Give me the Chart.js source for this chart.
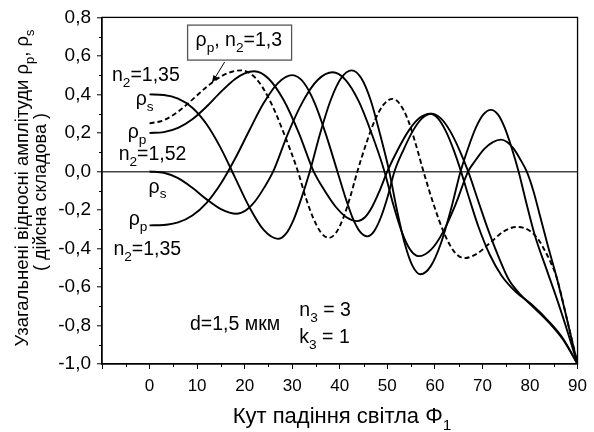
<!DOCTYPE html>
<html>
<head>
<meta charset="utf-8">
<script src="https://cdn.jsdelivr.net/npm/chart.js@4"></script>
<style>
html, body { margin: 0; padding: 0; background: #fff; }
</style>
</head>
<body>
<canvas id="chart" width="594" height="432"></canvas>
<script>
// rho_s, n2=1,35 (top group)
var sTopX = [0, 3, 6, 9, 12, 15, 18, 21, 24, 27, 28.7, 30.35, 32, 33.7, 35.9, 38.1, 40.3, 42.5, 44.5, 46.5, 48.4, 50.4, 52.05, 53.7, 55.35, 57, 59.1, 61.2, 63.3, 65.4, 67, 68.6, 70.2, 71.8, 73.25, 74.7, 76.15, 77.6, 79.3, 81, 83.5, 85.9, 88, 90];
var sTopY = [0.40, 0.397, 0.378, 0.331, 0.245, 0.12, -0.033, -0.186, -0.304, -0.35, -0.323, -0.247, -0.134, 0, 0.2, 0.371, 0.485, 0.525, 0.485, 0.37, 0.2, 0, -0.204, -0.378, -0.493, -0.534, -0.493, -0.378, -0.204, 0, 0.122, 0.226, 0.296, 0.32, 0.296, 0.226, 0.122, 0, -0.17, -0.33, -0.51, -0.68, -0.84, -1.0];
// rho_p, n2=1,35 (top group)
var pTopX = [0, 3, 6, 9, 12, 15, 18, 20, 22, 25.1, 28.25, 31.4, 34.5, 36.8, 39.1, 41.4, 43.7, 45.3, 46.85, 48.4, 50, 52.25, 54.5, 56.75, 59, 60.6, 62.25, 63.9, 65.5, 67.1, 69.2, 71.5, 74, 77, 80.3, 84, 87, 90];
var pTopY = [0.20, 0.2045, 0.226, 0.271, 0.337, 0.413, 0.48, 0.509, 0.52, 0.48, 0.368, 0.199, 0, -0.099, -0.182, -0.238, -0.258, -0.238, -0.182, -0.099, 0, 0.115, 0.212, 0.277, 0.30, 0.277, 0.212, 0.115, 0, -0.13, -0.29, -0.43, -0.54, -0.625, -0.69, -0.78, -0.87, -1.0];
// rho_s, lower group
var sLowX = [0, 3, 6, 9, 12, 15, 18.3, 20.2, 22.15, 24.1, 26, 29.1, 32.25, 35.4, 38.5, 41.2, 44, 46.7, 49.4, 51.2, 53, 54.8, 56.6, 59.2, 61.8, 64.4, 67, 68.7, 70.4, 72.2, 73.9, 75.25, 76.6, 77.95, 79.3, 80.7, 82.1, 83.8, 85.6, 87.8, 90];
var sLowY = [0, -0.007, -0.035, -0.085, -0.145, -0.196, -0.22, -0.203, -0.156, -0.084, 0, 0.197, 0.364, 0.476, 0.515, 0.476, 0.364, 0.197, 0, -0.168, -0.311, -0.406, -0.44, -0.406, -0.311, -0.168, 0, 0.063, 0.117, 0.152, 0.165, 0.152, 0.117, 0.063, 0, -0.1, -0.23, -0.39, -0.55, -0.77, -1.0];
// rho_p, lower group
var pLowX = [0, 3, 6, 9, 12, 15, 18, 21, 24, 27, 30, 32.4, 34.75, 37.1, 39.5, 41.1, 42.65, 44.2, 45.8, 47.2, 48.65, 50.1, 51.5, 53.45, 55.4, 57.35, 59.3, 61.2, 63.15, 65.1, 67, 69.2, 71.3, 73.5, 75.5, 78, 80.3, 84, 87, 90];
var pLowY = [-0.28, -0.278, -0.265, -0.229, -0.163, -0.063, 0.067, 0.214, 0.355, 0.459, 0.50, 0.462, 0.354, 0.191, 0, -0.129, -0.238, -0.311, -0.337, -0.311, -0.238, -0.129, 0, 0.115, 0.212, 0.277, 0.30, 0.277, 0.212, 0.115, 0, -0.16, -0.31, -0.45, -0.56, -0.64, -0.695, -0.785, -0.875, -1.0];
// rho_p, n2=1,3 (dashed)
var p13X = [0, 3, 6, 9, 12, 15, 17.5, 19.3, 22.3, 25.25, 28.2, 31.2, 32.8, 34.45, 36.1, 37.7, 39.2, 40.7, 42.2, 43.7, 45.55, 47.4, 49.25, 51.1, 52.7, 54.35, 55.95, 57.6, 59.75, 61.9, 64.05, 66.2, 68.95, 71.7, 74.45, 77.2, 78.8, 80.3, 81.8, 83.1, 84.4, 85.6, 87.8, 90];
var p13Y = [0.25, 0.266, 0.311, 0.373, 0.439, 0.493, 0.519, 0.525, 0.485, 0.371, 0.201, 0, -0.132, -0.244, -0.319, -0.345, -0.319, -0.244, -0.132, 0, 0.144, 0.267, 0.348, 0.377, 0.348, 0.267, 0.144, 0, -0.172, -0.318, -0.416, -0.45, -0.426, -0.369, -0.312, -0.288, -0.294, -0.315, -0.355, -0.41, -0.475, -0.55, -0.77, -1.0];

var xMin = -10, xMax = 90, xStep = 10;
var yMin = -1.0, yMax = 0.8, yStep = 0.2;

var FONT = "'Liberation Sans', Arial, sans-serif";

// labels in the plot: text, x (data), y (data) of the left baseline point
var notes = [
    { t: 'n_2=1,35', x: -7.9, y: 0.47 },
    { t: 'ρ_s', x: -2.9, y: 0.345 },
    { t: 'ρ_p', x: -4.6, y: 0.173 },
    { t: 'n_2=1,52', x: -6.5, y: 0.058 },
    { t: 'ρ_s', x: -0.2, y: -0.11 },
    { t: 'ρ_p', x: -4.4, y: -0.277 },
    { t: 'n_2=1,35', x: -7.6, y: -0.435 },
    { t: 'd=1,5 мкм', x: 8.5, y: -0.823 },
    { t: 'n_3 = 3', x: 31.5, y: -0.75 },
    { t: 'k_3 = 1', x: 31.5, y: -0.89 }
];

function pts(xs, ys) {
    var out = [];
    for (var i = 0; i < xs.length; i++) out.push({ x: xs[i], y: ys[i] });
    return out;
}

function splitRich(str) {
    var parts = [];
    for (var i = 0; i < str.length; i++) {
        if (str[i] === '_') {
            parts.push({ t: str[i + 1], sub: true });
            i++;
        } else if (parts.length && !parts[parts.length - 1].sub) {
            parts[parts.length - 1].t += str[i];
        } else {
            parts.push({ t: str[i], sub: false });
        }
    }
    return parts;
}

function richWidth(ctx, parts, size) {
    var w = 0;
    parts.forEach(function(p) {
        ctx.font = (p.sub ? size * 0.7 : size) + 'px ' + FONT;
        w += ctx.measureText(p.t).width;
    });
    return w;
}

function drawRich(ctx, str, x, y, size, center) {
    var parts = splitRich(str);
    var cx = x;
    if (center) cx = x - richWidth(ctx, parts, size) / 2;
    ctx.textBaseline = 'alphabetic';
    ctx.textAlign = 'left';
    parts.forEach(function(p) {
        var s = p.sub ? size * 0.7 : size;
        ctx.font = s + 'px ' + FONT;
        ctx.fillText(p.t, cx, p.sub ? y + size * 0.3 : y);
        cx += ctx.measureText(p.t).width;
    });
}

var decor = {
    id: 'decor',
    afterDraw: function(chart) {
        var ctx = chart.ctx;
        var a = chart.chartArea;
        var xs = chart.scales.x, ys = chart.scales.y;
        ctx.save();
        ctx.strokeStyle = '#000';
        ctx.fillStyle = '#000';

        // frame
        ctx.lineWidth = 1.3;
        ctx.strokeRect(a.left, a.top, a.right - a.left, a.bottom - a.top);

        // minor ticks
        ctx.lineWidth = 1;
        ctx.beginPath();
        for (var v = xMin + xStep / 2; v < xMax; v += xStep) {
            var px = Math.round(xs.getPixelForValue(v)) + 0.5;
            ctx.moveTo(px, a.bottom);
            ctx.lineTo(px, a.bottom + 3);
        }
        for (var k = 0; k < 9; k++) {
            var yv = yMin + yStep / 2 + k * yStep;
            var py = Math.round(ys.getPixelForValue(yv)) + 0.5;
            ctx.moveTo(a.left, py);
            ctx.lineTo(a.left - 3, py);
        }
        ctx.stroke();

        // annotations
        notes.forEach(function(n) {
            drawRich(ctx, n.t, xs.getPixelForValue(n.x), ys.getPixelForValue(n.y), 19.5, false);
        });

        // boxed label with arrow
        var bx = xs.getPixelForValue(8), by = ys.getPixelForValue(0.76);
        ctx.fillStyle = '#fff';
        ctx.fillRect(bx, by, 104, 35);
        ctx.strokeStyle = '#555';
        ctx.lineWidth = 1.3;
        ctx.strokeRect(bx, by, 104, 35);
        ctx.fillStyle = '#000';
        drawRich(ctx, 'ρ_p, n_2=1,3', bx + 8, by + 21, 19.5, false);

        var tx = xs.getPixelForValue(13.1), ty = ys.getPixelForValue(0.46);
        var sx = bx + 37, sy = by + 37;
        ctx.strokeStyle = '#000';
        ctx.lineWidth = 1;
        ctx.beginPath();
        ctx.moveTo(sx, sy);
        ctx.lineTo(tx, ty);
        ctx.stroke();
        var ang = Math.atan2(ty - sy, tx - sx);
        ctx.beginPath();
        ctx.moveTo(tx, ty);
        ctx.lineTo(tx - 8 * Math.cos(ang - 0.35), ty - 8 * Math.sin(ang - 0.35));
        ctx.lineTo(tx - 8 * Math.cos(ang + 0.35), ty - 8 * Math.sin(ang + 0.35));
        ctx.closePath();
        ctx.fill();

        // axis titles
        drawRich(ctx, 'Кут падіння світла Φ_1', 342, 423, 22, true);

        ctx.save();
        ctx.translate(28, 188);
        ctx.rotate(-Math.PI / 2);
        drawRich(ctx, 'Узагальнені відносні амплітуди ρ_p, ρ_s', 0, 0, 18.5, true);
        ctx.restore();
        ctx.save();
        ctx.translate(46, 192);
        ctx.rotate(-Math.PI / 2);
        drawRich(ctx, '( дійсна складова )', 0, 0, 18, true);
        ctx.restore();

        ctx.restore();
    }
};

function curve(xs, ys, dashed) {
    return {
        data: pts(xs, ys),
        borderColor: '#000',
        borderWidth: 1.9,
        borderDash: dashed ? [5, 3] : [],
        pointRadius: 0,
        fill: false,
        cubicInterpolationMode: 'monotone'
    };
}

var chart = new Chart(document.getElementById('chart'), {
    type: 'line',
    data: {
        datasets: [
            curve(sTopX, sTopY, false),
            curve(pTopX, pTopY, false),
            curve(sLowX, sLowY, false),
            curve(pLowX, pLowY, false),
            curve(p13X, p13Y, true)
        ]
    },
    options: {
        responsive: false,
        animation: false,
        devicePixelRatio: 1,
        layout: { padding: { top: 17, right: 14, left: 0, bottom: 0 } },
        plugins: { legend: { display: false }, tooltip: { enabled: false } },
        scales: {
            x: {
                type: 'linear',
                min: xMin,
                max: xMax,
                ticks: {
                    stepSize: xStep,
                    color: '#000',
                    font: { family: FONT, size: 17 },
                    padding: 7,
                    maxRotation: 0,
                    autoSkip: false,
                    callback: function(v) { return v < 0 ? '' : v; }
                },
                grid: { drawOnChartArea: false, tickLength: 5, tickColor: '#000', tickWidth: 1 },
                border: { color: '#000', width: 1.3 },
                afterFit: function(s) { s.height = 68; }
            },
            y: {
                min: yMin,
                max: yMax,
                ticks: {
                    stepSize: yStep,
                    color: '#000',
                    font: { family: FONT, size: 19 },
                    padding: 6,
                    autoSkip: false,
                    callback: function(v) {
                        if (Math.abs(v) < 1e-9) v = 0;
                        return v.toFixed(1).replace('.', ',');
                    }
                },
                grid: {
                    drawOnChartArea: true,
                    tickLength: 5,
                    tickColor: '#000',
                    tickWidth: 1,
                    lineWidth: 1.6,
                    color: function(c) {
                        return c.tick && Math.abs(c.tick.value) < 1e-9 ? '#444' : 'rgba(0,0,0,0)';
                    }
                },
                border: { color: '#000', width: 1.3 },
                afterFit: function(s) { s.width = 102; }
            }
        }
    },
    plugins: [decor]
});
</script>
</body>
</html>
